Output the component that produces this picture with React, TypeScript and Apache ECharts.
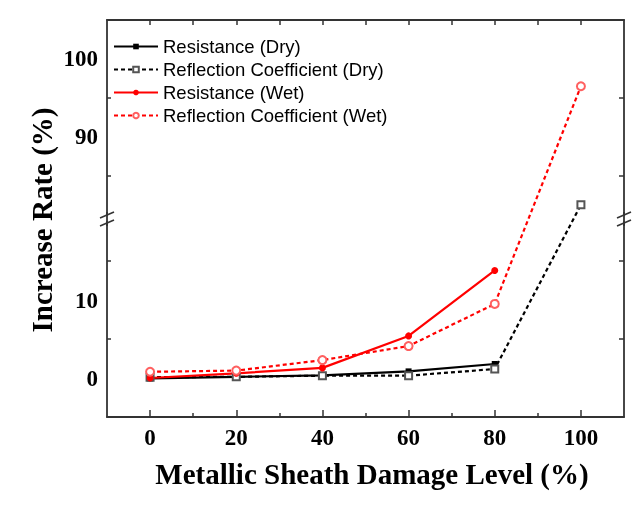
import React, { useRef, useEffect } from 'react';
import * as echarts from 'echarts';

const damageLevels = [0, 20, 40, 60, 80, 100];
const resistanceDry = [-0.05, 0.15, 0.35, 0.85, 1.8];
const reflectionDry = [0.1, 0.15, 0.3, 0.3, 1.15, 81.3];
const resistanceWet = [0.0, 0.6, 1.3, 5.4, 13.8];
const reflectionWet = [0.8, 0.95, 2.3, 4.1, 9.5, 96.5];

const seriesNames = [
  'Resistance (Dry)',
  'Reflection Coefficient (Dry)',
  'Resistance (Wet)',
  'Reflection Coefficient (Wet)'
];

const xLabelValues = [0, 20, 40, 60, 80, 100];
const xMinorTicks = [10, 30, 50, 70, 90];
const xTopTicks = [0, 10, 20, 30, 40, 50, 60, 70, 80, 90, 100];
const yLabelValues = [0, 10, 90, 100];
const yTickValues = [5, 15, 85, 95];

const AXIS = '#333';
const SERIF = '"Liberation Serif", "Times New Roman", serif';

const pairs = (vals: number[]) => vals.map((v, i) => [damageLevels[i], v]);

const slash = (cx: number, cy: number) => ({
  type: 'line',
  shape: { x1: cx - 7, y1: cy + 3, x2: cx + 7, y2: cy - 3 },
  style: { stroke: AXIS, lineWidth: 1.6 }
});

// the axis line runs on through the break in the original
const joint = (cx: number) => ({
  type: 'line',
  shape: { x1: cx, y1: 212, x2: cx, y2: 226 },
  style: { stroke: AXIS, lineWidth: 1.8 }
});

const App: React.FC = () => {
  const chartRef = useRef<HTMLDivElement>(null);

  useEffect(() => {
    const myChart = echarts.init(chartRef.current, null, { renderer: 'svg' });

    const line = { onZero: false, lineStyle: { color: AXIS, width: 1.8 } };
    const tick = { color: AXIS, width: 1.5 };

    const yBase = {
      type: 'value',
      min: -5,
      max: 105,
      breaks: [{ start: 20, end: 80, gap: '1.8%' }],
      breakArea: { show: false },
      splitLine: { show: false },
      axisLine: { show: true, ...line }
    };

    const option = {
      animation: false,
      grid: { left: 107, top: 20, right: 19, bottom: 92 },
      legend: {
        orient: 'vertical',
        left: 113,
        top: 37,
        padding: 0,
        itemWidth: 44,
        itemHeight: 7,
        itemGap: 4,
        data: seriesNames,
        textStyle: {
          fontFamily: '"Liberation Sans", Arial, sans-serif',
          fontSize: 18.5,
          lineHeight: 17,
          color: '#000'
        }
      },
      xAxis: [
        {
          type: 'value',
          min: -10,
          max: 110,
          position: 'bottom',
          splitLine: { show: false },
          axisLine: line,
          axisTick: { inside: true, length: 7, customValues: xLabelValues, lineStyle: tick },
          axisLabel: {
            customValues: xLabelValues,
            margin: 9,
            fontFamily: SERIF,
            fontWeight: 'bold',
            fontSize: 23,
            color: '#000'
          }
        },
        {
          type: 'value',
          min: -10,
          max: 110,
          position: 'bottom',
          splitLine: { show: false },
          axisLine: { show: false, onZero: false },
          axisTick: { inside: true, length: 4, customValues: xMinorTicks, lineStyle: tick },
          axisLabel: { show: false }
        },
        {
          type: 'value',
          min: -10,
          max: 110,
          position: 'top',
          splitLine: { show: false },
          axisLine: line,
          axisTick: { inside: true, length: 5, customValues: xTopTicks, lineStyle: tick },
          axisLabel: { show: false }
        }
      ],
      yAxis: [
        {
          ...yBase,
          position: 'left',
          axisTick: { inside: true, length: 4, customValues: yTickValues, lineStyle: tick },
          axisLabel: {
            customValues: yLabelValues,
            margin: 9,
            fontFamily: SERIF,
            fontWeight: 'bold',
            fontSize: 23,
            color: '#000'
          }
        },
        {
          ...yBase,
          position: 'right',
          axisTick: { inside: true, length: 5, customValues: yTickValues, lineStyle: tick },
          axisLabel: { show: false }
        }
      ],
      series: [
        {
          name: seriesNames[0],
          type: 'line',
          data: pairs(resistanceDry),
          symbol: 'rect',
          symbolSize: 6,
          itemStyle: { color: '#000' },
          lineStyle: { color: '#000', width: 2.2 }
        },
        {
          name: seriesNames[1],
          type: 'line',
          data: pairs(reflectionDry),
          symbol: 'emptyRect',
          symbolSize: 7,
          itemStyle: { color: '#555', borderWidth: 1 },
          lineStyle: { color: '#000', width: 2.2, type: [4, 3] }
        },
        {
          name: seriesNames[2],
          type: 'line',
          data: pairs(resistanceWet),
          symbol: 'circle',
          symbolSize: 7,
          itemStyle: { color: '#ff0000' },
          lineStyle: { color: '#ff0000', width: 2.2 }
        },
        {
          name: seriesNames[3],
          type: 'line',
          data: pairs(reflectionWet),
          symbol: 'emptyCircle',
          symbolSize: 8,
          itemStyle: { color: '#ff6060', borderWidth: 1 },
          lineStyle: { color: '#ff0000', width: 2.2, type: [4, 3] }
        }
      ],
      graphic: [
        {
          type: 'text',
          x: 372,
          y: 474,
          style: {
            text: 'Metallic Sheath Damage Level (%)',
            font: `bold 29px ${SERIF}`,
            fill: '#000',
            align: 'center',
            verticalAlign: 'middle'
          }
        },
        {
          type: 'text',
          x: 41.5,
          y: 220,
          rotation: Math.PI / 2,
          style: {
            text: 'Increase Rate (%)',
            font: `bold 29px ${SERIF}`,
            fill: '#000',
            align: 'center',
            verticalAlign: 'middle'
          }
        },
        joint(107),
        joint(624),
        slash(107, 215),
        slash(107, 223),
        slash(624, 215),
        slash(624, 223)
      ]
    };

    myChart.setOption(option as any);

    return () => {
      myChart.dispose();
    };
  }, []);

  return (
    <div
      ref={chartRef}
      style={{ position: 'fixed', left: 0, top: 0, width: '643px', height: '509px' }}
    />
  );
};

export default App;
